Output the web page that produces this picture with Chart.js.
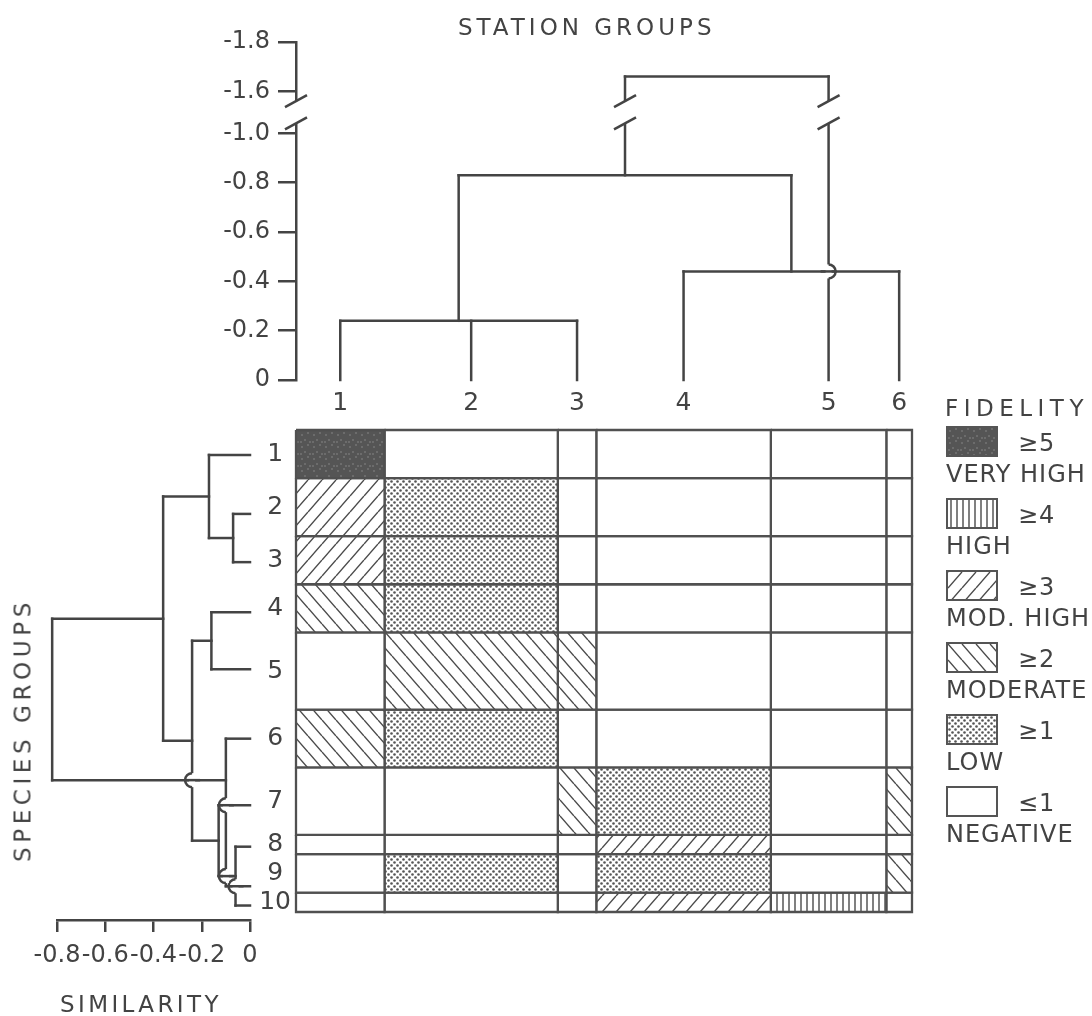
<!DOCTYPE html>
<html>
<head>
<meta charset="utf-8">
<title>Station groups and species groups - fidelity</title>
<script src="https://cdn.jsdelivr.net/npm/chart.js@4.4.1/dist/chart.umd.min.js"></script>
<style>
  html, body { margin: 0; background: #fff; }
  #page { position: relative; width: 1092px; height: 1016px; overflow: hidden;
          font-family: "DejaVu Sans", sans-serif; color: #434343; }
  #page canvas { position: absolute; left: 0; top: 0; }
  .txt { position: absolute; white-space: nowrap; line-height: 1; font-size: 23px; }
  .leg { position: absolute; white-space: nowrap; line-height: 1; font-size: 24px; letter-spacing: 1px; }
  .swatch { position: absolute; width: 52px; height: 31px; border: 2px solid #555; box-sizing: border-box; }
</style>
</head>
<body>
<div id="page">
  <canvas id="heat" width="1092" height="1016"></canvas>
  <canvas id="stationTree" width="1092" height="1016"></canvas>
  <canvas id="speciesTree" width="1092" height="1016"></canvas>
  <div class="txt" style="left:458px; top:16px; letter-spacing:4px;">STATION GROUPS</div>
  <div class="txt" style="left:60px; top:993px; letter-spacing:3.4px;">SIMILARITY</div>
  <div class="txt" style="left:23px; top:730px; letter-spacing:4.6px; transform:translate(-50%,-50%) rotate(-90deg);">SPECIES GROUPS</div>
  <div class="txt" style="left:945px; top:397px; letter-spacing:5.5px;">FIDELITY</div>
  <div id="legend"></div>
</div>
<script>
// ---- data ----
var stationGroups = ['1', '2', '3', '4', '5', '6'];
var stationSize = [6.9, 13.5, 3, 13.6, 9, 2];          // relative column widths
var speciesGroups = ['1', '2', '3', '4', '5', '6', '7', '8', '9', '10'];
var speciesSize = [5, 6, 5, 5, 8, 6, 7, 2, 4, 2];      // relative row heights

// fidelity class, rows = species groups, cols = station groups
// 0 negative, 1 low, 2 moderate, 3 mod. high, 4 high, 5 very high
var fidelity = [
  [5, 0, 0, 0, 0, 0],
  [3, 1, 0, 0, 0, 0],
  [3, 1, 0, 0, 0, 0],
  [2, 1, 0, 0, 0, 0],
  [0, 2, 2, 0, 0, 0],
  [2, 1, 0, 0, 0, 0],
  [0, 0, 2, 1, 0, 2],
  [0, 0, 0, 3, 0, 0],
  [0, 1, 0, 1, 0, 2],
  [0, 0, 0, 3, 4, 0]
];
var fidelityCode = ['\u22641', '\u22651', '\u22652', '\u22653', '\u22654', '\u22655'];
var fidelityName = ['NEGATIVE', 'LOW', 'MODERATE', 'MOD. HIGH', 'HIGH', 'VERY HIGH'];

// station dendrogram: leaves 0-5, joined nodes numbered from 6
var stationJoins = [
  { kids: [0, 1, 2], sim: -0.24 },
  { kids: [3, 5], sim: -0.44 },
  { kids: [6, 7], sim: -0.83 },
  { kids: [8, 4], sim: -1.66 }
];
var stationAxisTicks = [0, -0.2, -0.4, -0.6, -0.8, -1.0, -1.6, -1.8];

// species dendrogram: leaf ordinates (row units), joined nodes numbered from 10
var speciesLeafAt = [2.6, 8.7, 13.7, 18.9, 24.8, 32.0, 38.9, 43.2, 47.3, 49.3];
var speciesJoins = [
  { kids: [1, 2], sim: -0.07 },
  { kids: [0, 10], sim: -0.17 },
  { kids: [3, 4], sim: -0.16 },
  { kids: [7, 9], sim: -0.06 },
  { kids: [6, 13], sim: -0.13 },
  { kids: [5, 8], sim: -0.10, at: 36.3 },
  { kids: [12, 14], sim: -0.24 },
  { kids: [11, 16], sim: -0.36 },
  { kids: [17, 15], sim: -0.82 }
];
var similarityTicks = [-0.8, -0.6, -0.4, -0.2, 0];

// ---- helpers ----
var ink = '#444';
Chart.defaults.font.family = '"DejaVu Sans", sans-serif';
Chart.defaults.color = '#434343';
Chart.defaults.animation = false;
Chart.defaults.plugins.legend.display = false;
Chart.defaults.plugins.tooltip.enabled = false;

function edges(a) {
  var out = [0];
  a.forEach(function (v) { out.push(out[out.length - 1] + v); });
  return out;
}
var stationEdge = edges(stationSize);
var speciesEdge = edges(speciesSize);
var stationTotal = stationEdge[stationEdge.length - 1];
var speciesTotal = speciesEdge[speciesEdge.length - 1];
var stationMid = stationSize.map(function (s, i) { return stationEdge[i] + s / 2; });
var speciesMid = speciesSize.map(function (s, i) { return speciesEdge[i] + s / 2; });

function fmt(v) { return v === 0 ? '0' : v.toFixed(1); }

// broken similarity axis of the station tree: -1.0 .. -1.6 squeezed out
var BREAK_LO = 1.0, BREAK_HI = 1.6, BREAK_GAP = 0.17;
function depth(v) {
  var a = Math.abs(v);
  return a <= BREAK_LO ? a : a - BREAK_HI + BREAK_LO + BREAK_GAP;
}

function buildTree(leafPos, joins) {
  var nodes = leafPos.map(function (p) { return { p: p, h: 0 }; });
  var bars = [], drops = [];
  joins.forEach(function (j) {
    var kids = j.kids.map(function (k) { return nodes[k]; });
    var ps = kids.map(function (k) { return k.p; });
    var lo = Math.min.apply(null, ps), hi = Math.max.apply(null, ps);
    bars.push({ p1: lo, p2: hi, h: j.sim });
    kids.forEach(function (k) { drops.push({ p: k.p, h1: k.h, h2: j.sim }); });
    nodes.push({ p: j.at !== undefined ? j.at : (lo + hi) / 2, h: j.sim });
  });
  return { bars: bars, drops: drops };
}

function seg(pts) {
  return { data: pts, showLine: true, borderColor: ink, borderWidth: 2.5, pointRadius: 0,
           fill: false, clip: false, tension: 0, borderCapStyle: 'square' };
}

// ---- fill patterns ----
function tile(w, h, paint) {
  var c = document.createElement('canvas');
  c.width = w; c.height = h;
  var g = c.getContext('2d');
  g.fillStyle = '#fff'; g.fillRect(0, 0, w, h);
  paint(g, w, h);
  return c;
}
function hatch(g, w, h, rising) {
  g.strokeStyle = '#4a4a4a'; g.lineWidth = 1.4;
  [-w, 0, w].forEach(function (o) {
    g.beginPath();
    if (rising) { g.moveTo(o, h); g.lineTo(o + w, 0); }
    else { g.moveTo(o, 0); g.lineTo(o + w, h); }
    g.stroke();
  });
}
var tiles = [
  tile(4, 4, function () {}),
  tile(6, 6, function (g) {
    g.fillStyle = '#555';
    [[1.5, 1.5], [4.5, 4.5]].forEach(function (d) { g.beginPath(); g.arc(d[0], d[1], 1.3, 0, 7); g.fill(); });
  }),
  tile(14, 16, function (g, w, h) { hatch(g, w, h, false); }),
  tile(14, 16, function (g, w, h) { hatch(g, w, h, true); }),
  tile(6, 6, function (g) {
    g.strokeStyle = '#4a4a4a'; g.lineWidth = 1.4;
    g.beginPath(); g.moveTo(3, 0); g.lineTo(3, 6); g.stroke();
  }),
  tile(12, 12, function (g) {
    g.fillStyle = '#555'; g.fillRect(0, 0, 12, 12);
    g.fillStyle = '#8c8c8c';
    [[2, 3], [8, 1], [5, 8], [10, 10], [1, 10]].forEach(function (d) { g.beginPath(); g.arc(d[0], d[1], 0.8, 0, 7); g.fill(); });
  })
];

// ---- two-way table ----
var heatCanvas = document.getElementById('heat');
var hctx = heatCanvas.getContext('2d');
var fills = tiles.map(function (t) { return hctx.createPattern(t, 'repeat'); });
var cellSets = [];
fidelity.forEach(function (row, r) {
  row.forEach(function (f, c) {
    var x0 = stationEdge[c], x1 = stationEdge[c + 1], y0 = speciesEdge[r], y1 = speciesEdge[r + 1];
    cellSets.push({
      data: [{ x: x0, y: y0 }, { x: x1, y: y0 }, { x: x1, y: y1 }, { x: x0, y: y1 }, { x: x0, y: y0 }],
      showLine: true, fill: 'shape', backgroundColor: fills[f], borderColor: '#505050', borderWidth: 2.3,
      pointRadius: 0, tension: 0, clip: false, borderJoinStyle: 'miter'
    });
  });
});

new Chart(heatCanvas, {
  type: 'scatter',
  data: { datasets: cellSets },
  options: {
    responsive: false,
    layout: { padding: { left: 256, right: 180, top: 390, bottom: 104 } },
    scales: {
      x: {
        type: 'linear', position: 'top', min: 0, max: stationTotal,
        grid: { display: false, drawTicks: false }, border: { display: false },
        afterBuildTicks: function (s) { s.ticks = stationMid.map(function (v) { return { value: v }; }); },
        afterFit: function (s) { s.height = 40; },
        ticks: { autoSkip: false, maxRotation: 0, padding: 12, font: { size: 25 },
                 callback: function (v, i) { return stationGroups[i]; } }
      },
      y: {
        type: 'linear', reverse: true, min: 0, max: speciesTotal,
        grid: { display: false, drawTicks: false }, border: { display: false },
        afterBuildTicks: function (s) { s.ticks = speciesMid.map(function (v) { return { value: v }; }); },
        afterFit: function (s) { s.width = 40; },
        ticks: { autoSkip: false, crossAlign: 'center', padding: 5, font: { size: 25 },
                 callback: function (v, i) { return speciesGroups[i]; } }
      }
    }
  }
});

// ---- station dendrogram (top) ----
var stationTree = buildTree(stationMid, stationJoins);
var stationSets = stationTree.bars.map(function (b) {
  return seg([{ x: b.p1, y: depth(b.h) }, { x: b.p2, y: depth(b.h) }]);
}).concat(stationTree.drops.map(function (d) {
  return seg([{ x: d.p, y: depth(d.h1) }, { x: d.p, y: depth(d.h2) }]);
}));

var stationMarks = {
  id: 'stationMarks',
  afterDraw: function (chart) {
    var ctx = chart.ctx, x = chart.scales.x, y = chart.scales.y;
    ctx.save();
    ctx.lineWidth = 2.5; ctx.strokeStyle = ink; ctx.fillStyle = '#fff';
    // a vertical branch hops over a crossing horizontal one
    stationTree.drops.forEach(function (d) {
      stationTree.bars.forEach(function (b) {
        var bh = depth(b.h), lo = depth(d.h1), hi = depth(d.h2);
        if (d.p > b.p1 + 0.01 && d.p < b.p2 - 0.01 && bh > lo + 0.01 && bh < hi - 0.01) {
          var px = x.getPixelForValue(d.p), py = y.getPixelForValue(bh);
          ctx.fillRect(px - 3, py - 7, 6, 14);
          ctx.beginPath(); ctx.moveTo(px - 8, py); ctx.lineTo(px + 8, py); ctx.stroke();
          ctx.beginPath(); ctx.arc(px, py, 7, -Math.PI / 2, Math.PI / 2, false); ctx.stroke();
        }
      });
    });
    // break marks on the axis and on branches crossing the gap
    var yA = y.getPixelForValue(BREAK_LO + 0.04), yB = y.getPixelForValue(BREAK_LO + 0.13);
    var xs = [chart.chartArea.left];
    stationTree.drops.forEach(function (d) {
      if (depth(d.h1) < BREAK_LO + 0.04 && depth(d.h2) > BREAK_LO + 0.13) xs.push(x.getPixelForValue(d.p));
    });
    xs.forEach(function (px) {
      ctx.fillRect(px - 3, yB, 6, yA - yB);
      [yA, yB].forEach(function (py) {
        ctx.beginPath(); ctx.moveTo(px - 11, py + 6); ctx.lineTo(px + 11, py - 6); ctx.stroke();
      });
    });
    ctx.restore();
  }
};

new Chart(document.getElementById('stationTree'), {
  type: 'scatter',
  data: { datasets: stationSets },
  options: {
    responsive: false,
    layout: { padding: { left: 206, right: 180, top: 42, bottom: 636 } },
    scales: {
      x: { type: 'linear', display: false, min: 0, max: stationTotal },
      y: {
        type: 'linear', min: 0, max: Math.max.apply(null, stationAxisTicks.map(depth)),
        afterBuildTicks: function (s) { s.ticks = stationAxisTicks.map(function (v) { return { value: depth(v) }; }); },
        afterFit: function (s) { s.width = 90; },
        grid: { drawOnChartArea: false, tickLength: 18, lineWidth: 2.5, color: ink },
        border: { display: true, color: ink, width: 2.5 },
        ticks: { autoSkip: false, padding: 8, font: { size: 24 },
                 callback: function (v, i) { return fmt(stationAxisTicks[i]); } }
      }
    }
  },
  plugins: [stationMarks]
});

// ---- species dendrogram (left) ----
var speciesTree = buildTree(speciesLeafAt, speciesJoins);
var speciesSets = speciesTree.bars.map(function (b) {
  return seg([{ x: b.h, y: b.p1 }, { x: b.h, y: b.p2 }]);
}).concat(speciesTree.drops.map(function (d) {
  return seg([{ x: d.h1, y: d.p }, { x: d.h2, y: d.p }]);
}));

var speciesMarks = {
  id: 'speciesMarks',
  afterDraw: function (chart) {
    var ctx = chart.ctx, x = chart.scales.x, y = chart.scales.y;
    ctx.save();
    ctx.lineWidth = 2.5; ctx.strokeStyle = ink; ctx.fillStyle = '#fff';
    speciesTree.bars.forEach(function (b) {
      speciesTree.drops.forEach(function (d) {
        var xlo = Math.min(d.h1, d.h2), xhi = Math.max(d.h1, d.h2);
        if (b.h > xlo + 0.005 && b.h < xhi - 0.005 && d.p > b.p1 + 0.1 && d.p < b.p2 - 0.1) {
          var px = x.getPixelForValue(b.h), py = y.getPixelForValue(d.p);
          ctx.fillRect(px - 3, py - 7, 6, 14);
          ctx.beginPath(); ctx.moveTo(px - 8, py); ctx.lineTo(px + 8, py); ctx.stroke();
          ctx.beginPath(); ctx.arc(px, py, 7, -Math.PI / 2, Math.PI / 2, true); ctx.stroke();
        }
      });
    });
    ctx.restore();
  }
};

new Chart(document.getElementById('speciesTree'), {
  type: 'scatter',
  data: { datasets: speciesSets },
  options: {
    responsive: false,
    layout: { padding: { left: 57, right: 842, top: 430, bottom: 0 } },
    scales: {
      x: {
        type: 'linear', position: 'bottom', min: -0.8, max: 0,
        afterBuildTicks: function (s) { s.ticks = similarityTicks.map(function (v) { return { value: v }; }); },
        afterFit: function (s) { s.height = 96; },
        grid: { drawOnChartArea: false, tickLength: 12, lineWidth: 2.5, color: ink },
        border: { display: true, color: ink, width: 2.5 },
        ticks: { autoSkip: false, maxRotation: 0, padding: 9, font: { size: 24 },
                 callback: function (v, i) { return fmt(similarityTicks[i]); } }
      },
      y: { type: 'linear', display: false, reverse: true, min: 0, max: speciesTotal + 0.8 }
    }
  },
  plugins: [speciesMarks]
});

// ---- fidelity legend ----
(function () {
  var legendBox = document.getElementById('legend');
  var n = fidelityName.length;
  for (var k = n - 1; k >= 0; k--) {
    var boxTop = 426 + (n - 1 - k) * 72;
    var sw = document.createElement('div');
    sw.className = 'swatch';
    sw.style.left = '946px'; sw.style.top = boxTop + 'px';
    sw.style.backgroundImage = 'url(' + tiles[k].toDataURL() + ')';
    legendBox.appendChild(sw);
    var codeEl = document.createElement('div');
    codeEl.className = 'leg';
    codeEl.style.left = '1018px'; codeEl.style.top = (boxTop + 4.5) + 'px';
    codeEl.textContent = fidelityCode[k];
    legendBox.appendChild(codeEl);
    var nameEl = document.createElement('div');
    nameEl.className = 'leg';
    nameEl.style.left = '946px'; nameEl.style.top = (boxTop + 35.5) + 'px';
    nameEl.textContent = fidelityName[k];
    legendBox.appendChild(nameEl);
  }
})();
</script>
</body>
</html>
